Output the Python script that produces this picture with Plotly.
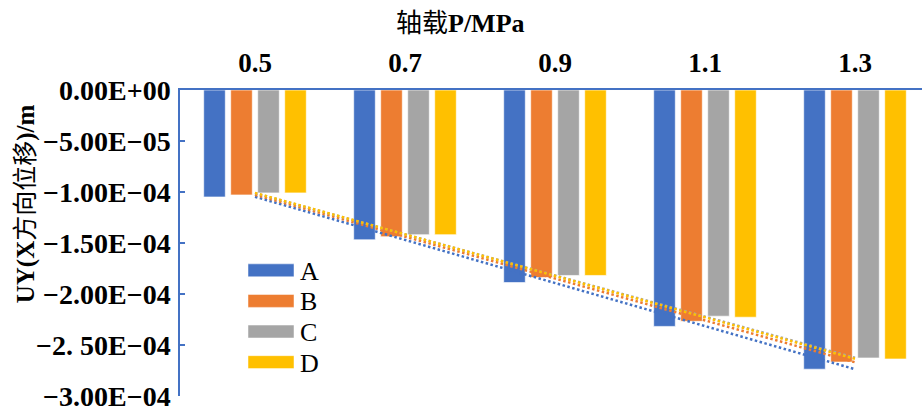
import numpy as np
import plotly.graph_objects as go

# Axial load levels (MPa) and X-direction displacement UY (m) per case
categories = ["0.5", "0.7", "0.9", "1.1", "1.3"]
series_names = ["A", "B", "C", "D"]
uy_a = [-1.05e-4, -1.47e-4, -1.89e-4, -2.32e-4, -2.74e-4]
uy_b = [-1.03e-4, -1.44e-4, -1.84e-4, -2.27e-4, -2.67e-4]
uy_c = [-1.01e-4, -1.42e-4, -1.82e-4, -2.22e-4, -2.63e-4]
uy_d = [-1.01e-4, -1.42e-4, -1.82e-4, -2.23e-4, -2.64e-4]
y_tickvals = [0, -5e-5, -1e-4, -1.5e-4, -2e-4, -2.5e-4, -3e-4]
y_ticktext = ["0.00E+00", "\u22125.00E\u221205", "\u22121.00E\u221204", "\u22121.50E\u221204",
              "\u22122.00E\u221204", "\u22122. 50E\u221204", "\u22123.00E\u221204"]

colors = ["#4472C4", "#ED7D31", "#A5A5A5", "#FFC000"]
values = [uy_a, uy_b, uy_c, uy_d]

W, H = 922, 411
ML, MR, MT, MB = 180, 0, 90, 13
plot_w = W - ML - MR
plot_h = H - MT - MB
band_px = 150  # width of one category band

def px_x(p):
    return (p - ML) / plot_w

def px_y(p):
    return (H - MB - p) / plot_h

idx = np.arange(len(categories))
fig = go.Figure()

for name, vals, col in zip(series_names, values, colors):
    fig.add_trace(go.Bar(
        x=idx, y=vals, name=name,
        marker=dict(color=col, line=dict(color="rgba(255,255,255,0.8)", width=0.8)),
        showlegend=False,
    ))

# Linear trendlines for each series
for name, vals, col in zip(series_names, values, colors):
    k, b = np.polyfit(idx, vals, 1)
    xs = np.array([idx[0], idx[-1]])
    fig.add_trace(go.Scatter(
        x=xs, y=k * xs + b, mode="lines",
        line=dict(color=col, width=2.5, dash="2.5px,2.5px"),
        showlegend=False, hoverinfo="skip",
    ))

serif = "Liberation Serif, Times New Roman, Noto Sans CJK SC"
axis_blue = "#4472C4"

fig.update_layout(
    width=W, height=H,
    margin=dict(l=ML, r=MR, t=MT, b=MB),
    paper_bgcolor="white", plot_bgcolor="white",
    barmode="group", bargap=0.28, bargroupgap=0.2,
    showlegend=False,
    xaxis=dict(
        side="top", range=[-0.5, -0.5 + plot_w / band_px],
        tickvals=list(idx), ticktext=categories, ticks="",
        tickfont=dict(family=serif, size=27, color="black", weight="bold"),
        showline=True, linecolor=axis_blue, linewidth=1.5,
        showgrid=False, zeroline=False, ticklabelstandoff=5,
    ),
    yaxis=dict(
        range=[-3.003e-4, 0], tickvals=y_tickvals, ticktext=y_ticktext,
        ticks="inside", ticklen=5, tickcolor=axis_blue, tickwidth=1.5,
        tickfont=dict(family=serif, size=28, color="black", weight="bold"),
        showline=True, linecolor=axis_blue, linewidth=1.5,
        showgrid=False, zeroline=False, ticklabelstandoff=2,
        ticklabeloverflow="allow",
    ),
)

annotations = [
    dict(text="轴载<b>P/MPa</b>", xref="paper", yref="paper",
         x=px_x(460), y=px_y(23), xanchor="center", yanchor="middle",
         showarrow=False, font=dict(family=serif, size=26, color="black")),
    dict(text="<b>UY(X</b>方向位移<b>)/m</b>", xref="paper", yref="paper",
         x=px_x(26), y=px_y(205), xanchor="center", yanchor="middle", textangle=-90,
         showarrow=False, font=dict(family=serif, size=25, color="black")),
]

# Legend drawn as swatches with labels
shapes = []
leg_x0, leg_x1, leg_y0, leg_step, sw_h = 248, 294, 271.5, 30.8, 13
for i, (name, col) in enumerate(zip(series_names, colors)):
    cy = leg_y0 + i * leg_step
    shapes.append(dict(type="rect", xref="paper", yref="paper",
                       x0=px_x(leg_x0), x1=px_x(leg_x1),
                       y0=px_y(cy + sw_h / 2), y1=px_y(cy - sw_h / 2),
                       fillcolor=col, line=dict(color="rgba(255,255,255,0.6)", width=0.8)))
    annotations.append(dict(text=name, xref="paper", yref="paper",
                            x=px_x(leg_x1 + 4), y=px_y(cy + 1), xanchor="left", yanchor="middle",
                            showarrow=False, font=dict(family=serif, size=26, color="black")))

fig.update_layout(annotations=annotations, shapes=shapes)

fig.write_html("out.html")
